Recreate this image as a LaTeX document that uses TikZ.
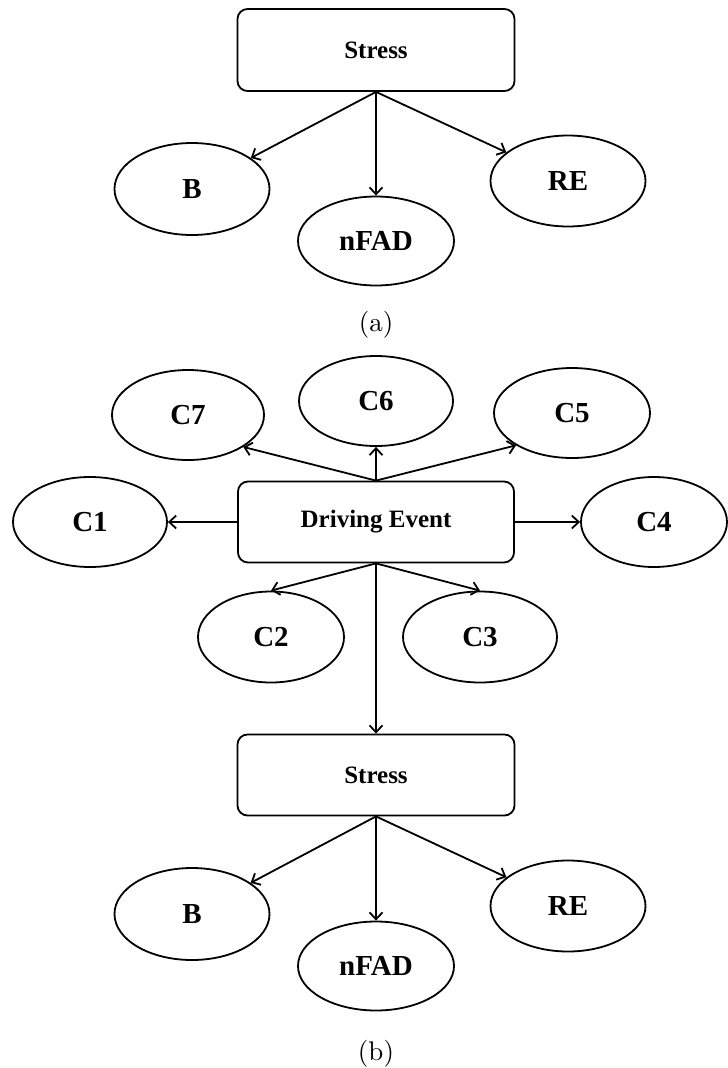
\documentclass[tikz,border=0pt]{standalone}
\usepackage{fontspec}
\newfontfamily\labelfont{Liberation Serif}
\newfontfamily\capfont{lmroman10-regular}[Extension=.otf]
\usetikzlibrary{arrows.meta,shapes.geometric}
\begin{document}
\begin{tikzpicture}[x=1pt,y=-1pt,
  box/.style={draw, line width=1.8pt, rounded corners=10pt,
    minimum width=277pt, minimum height=82pt, inner sep=0pt,
    font=\labelfont\bfseries\fontsize{25}{30}\selectfont},
  oval/.style={draw, ellipse, line width=1.8pt, inner sep=0pt,
    font=\labelfont\bfseries\fontsize{29}{34}\selectfont},
  link/.style={line width=1.8pt, -{Straight Barb[length=7pt,width=13pt]}},
  caption/.style={font=\capfont\fontsize{27}{32}\selectfont}]
\useasboundingbox (0,0) rectangle (728,1068);

% (a) stress and its three outcomes
\node[box] (sa) at (376,50) {Stress};
\node[oval, minimum width=155pt, minimum height=92pt] (ba) at (192,189) {B};
\node[oval, minimum width=156pt, minimum height=89pt] (na) at (376,241) {nFAD};
\node[oval, minimum width=155pt, minimum height=91pt] (ra) at (568,181) {RE};
\node[caption] (capa) at (376,325) {(a)};

\draw[link] (sa.south) -- (ba);
\draw[link] (sa.south) -- (na.north);
\draw[link] (sa.south) -- (ra);

% (b) driving event with its seven causes, feeding stress
\node[box, minimum width=276pt, minimum height=81pt] (de) at (376,522) {Driving Event};
\node[oval, minimum width=152pt, minimum height=90pt] (c7) at (188,415) {C7};
\node[oval, minimum width=154pt, minimum height=90pt] (c6) at (376,401) {C6};
\node[oval, minimum width=156pt, minimum height=90pt] (c5) at (572,413) {C5};
\node[oval, minimum width=154pt, minimum height=90pt] (c1) at (90,522) {C1};
\node[oval, minimum width=146pt, minimum height=90pt] (c4) at (654,522) {C4};
\node[oval, minimum width=146pt, minimum height=91pt] (c2) at (271,637) {C2};
\node[oval, minimum width=154pt, minimum height=91pt] (c3) at (480,637) {C3};

\node[box, minimum height=81pt] (sb) at (376,775) {Stress};
\node[oval, minimum width=155pt, minimum height=92pt] (bb) at (192,914) {B};
\node[oval, minimum width=156pt, minimum height=89pt] (nb) at (376,966) {nFAD};
\node[oval, minimum width=155pt, minimum height=91pt] (rb) at (568,906) {RE};
\node[caption] (capb) at (376,1054) {(b)};

\draw[link] (de.north) -- (c7.-30);
\draw[link] (de.north) -- (c6.south);
\draw[link] (de.north) -- (c5.-150);
\draw[link] (de.west) -- (c1.east);
\draw[link] (de.east) -- (c4.west);
\draw[link] (de.south) -- (c2.north);
\draw[link] (de.south) -- (c3.north);
\draw[link] (de.south) -- (sb.north);

\draw[link] (sb.south) -- (bb);
\draw[link] (sb.south) -- (nb.north);
\draw[link] (sb.south) -- (rb);
\end{tikzpicture}
\end{document}
